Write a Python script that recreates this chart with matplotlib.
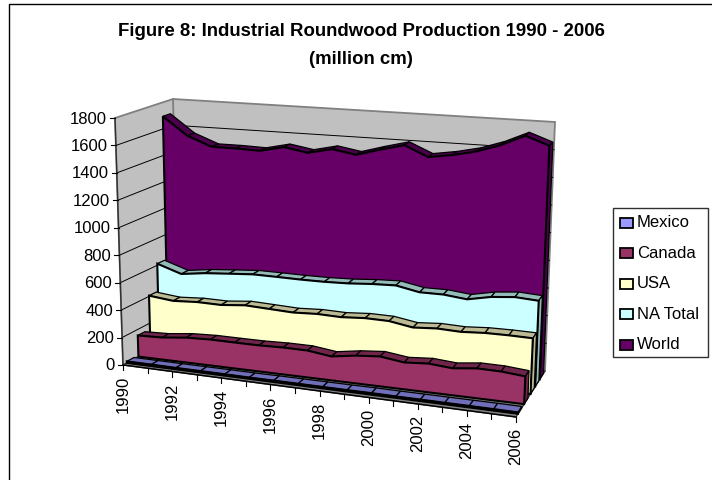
"""Industrial roundwood production 1990-2006, drawn as a 3D area chart."""

import matplotlib

matplotlib.use("Agg")
import matplotlib.pyplot as plt
from matplotlib.patches import Polygon, Rectangle

plt.rcParams["font.family"] = ["Liberation Sans", "DejaVu Sans"]

years = list(range(1990, 2007))
y_ticks = [0, 200, 400, 600, 800, 1000, 1200, 1400, 1600, 1800]

mexico = [11, 11, 10, 10, 10, 9, 10, 10, 10, 10, 11, 10, 10, 10, 10, 10, 9]
canada = [156, 162, 182, 189, 188, 188, 193, 192, 170, 196, 210, 188, 200, 187, 206, 204, 190]
usa = [405, 385, 395, 392, 408, 400, 392, 400, 395, 406, 403, 375, 386, 380, 390, 391, 388]
na_total = [612, 552, 575, 588, 600, 598, 595, 595, 600, 612, 618, 585, 585, 567, 600, 615, 605]
world = [1695, 1560, 1490, 1490, 1485, 1525, 1495, 1535, 1505, 1555, 1600, 1525, 1552, 1590, 1648, 1725, 1665]

# name, values, front colour, band colour, depth of the front face
series = [
    ("World", world, "#660066", "#4a004a", 0.82),
    ("NA Total", na_total, "#ccffff", "#94baba", 0.66),
    ("USA", usa, "#ffffcc", "#baba94", 0.50),
    ("Canada", canada, "#993366", "#6f254a", 0.28),
    ("Mexico", mexico, "#9999ff", "#6f6fba", 0.07),
]
BAND_DEPTH = 0.13
VALUE_MAX = 1800

# corners of the plot box in pixels: (front/back, left/right) at value 0 and at the top
FLOOR = {"fl": (123, 366), "fr": (516, 418), "bl": (178, 336), "br": (545, 372)}
ROOF = {"fl": (115, 119), "fr": (528, 150), "bl": (173, 100), "br": (555, 123)}


def lerp(p, q, t):
    return (p[0] + (q[0] - p[0]) * t, p[1] + (q[1] - p[1]) * t)


def project(year, depth, value):
    """Trilinear mapping from (year, depth, value) to pixel position."""
    u = (year - years[0]) / (years[-1] - years[0])
    low = lerp(lerp(FLOOR["fl"], FLOOR["fr"], u), lerp(FLOOR["bl"], FLOOR["br"], u), depth)
    high = lerp(lerp(ROOF["fl"], ROOF["fr"], u), lerp(ROOF["bl"], ROOF["br"], u), depth)
    return lerp(low, high, value / VALUE_MAX)


def draw_walls(ax):
    first, last = years[0], years[-1]
    back = [project(first, 1, 0), project(last, 1, 0), project(last, 1, VALUE_MAX), project(first, 1, VALUE_MAX)]
    left = [project(first, 0, 0), project(first, 1, 0), project(first, 1, VALUE_MAX), project(first, 0, VALUE_MAX)]
    floor = [project(first, 0, 0), project(last, 0, 0), project(last, 1, 0), project(first, 1, 0)]
    for pts in (back, left):
        ax.add_patch(Polygon(pts, closed=True, fc="#c0c0c0", ec="#808080", lw=1.3, zorder=1))
    ax.add_patch(Polygon(floor, closed=True, fc="#808080", ec="#404040", lw=1.0, zorder=2))

    for v in y_ticks[1:-1]:
        a, b, c = project(first, 0, v), project(first, 1, v), project(last, 1, v)
        ax.plot([a[0], b[0], c[0]], [a[1], b[1], c[1]], color="black", lw=0.7, zorder=2)


def draw_axes(ax):
    first, last = years[0], years[-1]
    a, b = project(first, 0, 0), project(first, 0, VALUE_MAX)
    ax.plot([a[0], b[0]], [a[1], b[1]], color="#303030", lw=1.0, zorder=3)
    a, b = project(first, 0, 0), project(last, 0, 0)
    ax.plot([a[0], b[0]], [a[1], b[1]], color="black", lw=1.0, zorder=9)

    for v in y_ticks:
        x, y = project(first, 0, v)
        ax.plot([x - 5, x], [y, y], color="black", lw=0.8, zorder=3)
        ax.text(x - 8, y, str(v), ha="right", va="center", fontsize=12, color="black")

    for yr in years:
        x, y = project(yr, 0, 0)
        ax.plot([x, x], [y, y + 5], color="black", lw=0.8, zorder=9)
        if (yr - first) % 2 == 0:
            ax.text(x, y + 10, str(yr), rotation=90, ha="center", va="top", fontsize=12, color="black")


def draw_series(ax, values, face, band, depth, zorder):
    back = depth + BAND_DEPTH
    for i in range(len(years) - 1):
        pts = [
            project(years[i], depth, values[i]),
            project(years[i + 1], depth, values[i + 1]),
            project(years[i + 1], back, values[i + 1]),
            project(years[i], back, values[i]),
        ]
        ax.add_patch(Polygon(pts, closed=True, fc=band, ec="black", lw=0.9, zorder=zorder))

    side = [
        project(years[-1], depth, 0),
        project(years[-1], back, 0),
        project(years[-1], back, values[-1]),
        project(years[-1], depth, values[-1]),
    ]
    ax.add_patch(Polygon(side, closed=True, fc=band, ec="black", lw=0.9, zorder=zorder))

    front = [project(years[0], depth, 0)]
    front += [project(yr, depth, v) for yr, v in zip(years, values)]
    front.append(project(years[-1], depth, 0))
    ax.add_patch(Polygon(front, closed=True, fc=face, ec="black", lw=1.5, joinstyle="miter", zorder=zorder + 0.5))


def draw_legend(ax):
    ax.add_patch(Rectangle((613, 209), 95, 149, fc="white", ec="#303030", lw=1.0, zorder=5))
    for i, (name, _, face, _, _) in enumerate(reversed(series)):
        y = 224 + i * 30.4
        ax.add_patch(Rectangle((620, y - 5), 13, 10, fc=face, ec="black", lw=1.3, zorder=6))
        ax.text(637, y - 1, name, ha="left", va="center", fontsize=12, color="black", zorder=6)


fig = plt.figure(figsize=(7.12, 4.81), dpi=100)
ax = fig.add_axes([0, 0, 1, 1])
ax.set_xlim(0, 712)
ax.set_ylim(481, 0)
ax.axis("off")

# outer chart frame, cut off by the page on the right and at the bottom
ax.plot([9, 9, 712], [481, 5, 5], color="black", lw=1.0)

ax.text(361, 31, "Figure 8: Industrial Roundwood Production 1990 - 2006", ha="center", va="center", fontsize=13.4, fontweight="bold")
ax.text(361, 59, "(million cm)", ha="center", va="center", fontsize=13.4, fontweight="bold")

draw_walls(ax)
for n, (name, values, face, band, depth) in enumerate(series):
    draw_series(ax, values, face, band, depth, 4 + n)
draw_axes(ax)
draw_legend(ax)

fig.savefig("out.png", dpi=100)
